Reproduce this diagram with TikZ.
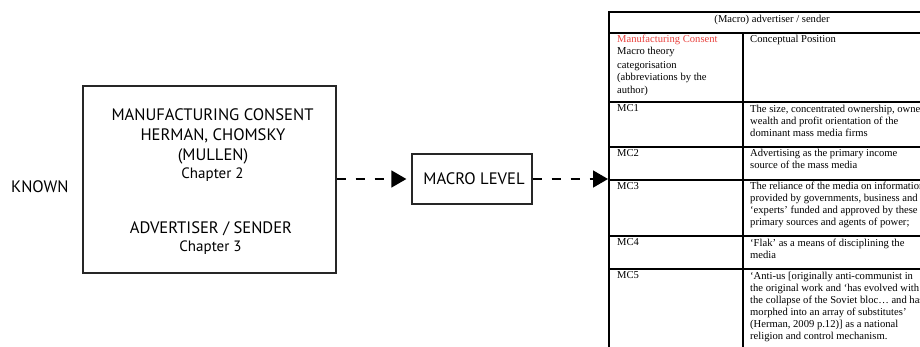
\documentclass[tikz,border=0pt]{standalone}
\usepackage{fontspec}
\setmainfont{Liberation Serif}
\newfontfamily\boxfont{PT Sans}
\newfontfamily\tabfont{Liberation Serif}
\usetikzlibrary{arrows.meta}
\definecolor{mcred}{RGB}{232,66,62}
\tikzset{
  framebox/.style={draw=black!85, line width=1.3pt, fill=white, inner sep=0pt},
  boxtext/.style={font=\boxfont\fontsize{16.6}{18}\selectfont, inner sep=0pt, anchor=center},
  chaptext/.style={font=\boxfont\fontsize{15}{17}\selectfont, inner sep=0pt, anchor=center},
  dasharrow/.style={line width=1.5pt, dash pattern=on 9pt off 10pt,
    -{Triangle[length=15pt,width=17pt]}},
  tabline/.style={line width=2.3pt, line cap=rect, draw=black},
  celltext/.style={font=\tabfont\fontsize{10.6}{12.1}\selectfont, inner sep=0pt,
    anchor=north west, align=left},
}
\begin{document}
\begin{tikzpicture}[x=1pt, y=-1pt]
  \useasboundingbox (0,0) rectangle (920,346);
  \clip (0,0) rectangle (920,346);

  % label on the far left
  \node[boxtext, anchor=west] (known) at (11,187) {KNOWN};

  % source box with its text lines
  \node[framebox, minimum width=253pt, minimum height=187pt] (src) at (209.5,179.5) {};
  \node[boxtext] (mc) at (212.5,115) {MANUFACTURING CONSENT};
  \node[boxtext] (hc) at (213,136) {HERMAN, CHOMSKY};
  \node[boxtext] (mu) at (213,156) {(MULLEN)};
  \node[chaptext] (c2) at (212.5,175) {Chapter 2};
  \node[boxtext] (as) at (211,229) {ADVERTISER / SENDER};
  \node[chaptext] (c3) at (210.5,248) {Chapter 3};

  % middle box
  \node[framebox, minimum width=120pt, minimum height=50pt] (macro) at (472,179) {};
  \node[boxtext] (ml) at (474,179) {MACRO LEVEL};

  % table frame
  \node[draw=none, minimum width=326pt, minimum height=360pt, anchor=north west,
        inner sep=0pt] (table) at (609,12) {};
  \draw[tabline] (609,380) -- (609,12) -- (940,12) -- (940,380);
  \foreach \yy in {33,102,147,180,236,269}
    \draw[tabline] (609,\yy) -- (940,\yy);
  \draw[tabline] (743,33) -- (743,380);

  % connectors
  \draw[dasharrow, shorten >=5pt] (src.east |- macro.west) -- (macro.west);
  \draw[dasharrow, shorten >=1pt] (macro.east) -- (macro.east -| table.west);

  % table contents
  \node[font=\tabfont\fontsize{10.6}{12}\selectfont, inner sep=0pt] (head) at (772,20)
    {(Macro) advertiser / sender};
  \node[celltext] (h1) at (617,34.5)
    {\textcolor{mcred}{Manufacturing Consent}\\Macro theory\\[2pt]categorisation\\[0.5pt](abbreviations by the\\author)};
  \node[celltext] (h2) at (750,34.5) {Conceptual Position};

  \node[celltext] (r1a) at (617,104.5) {MC1};
  \node[celltext] (r1b) at (750,104.5)
    {The size, concentrated ownership, owner\\wealth and profit orientation of the\\dominant mass media firms};
  \node[celltext] (r2a) at (617,149) {MC2};
  \node[celltext] (r2b) at (750,149)
    {Advertising as the primary income\\source of the mass media};
  \node[celltext] (r3a) at (617,182) {MC3};
  \node[celltext] (r3b) at (750,182)
    {The reliance of the media on information\\provided by governments, business and\\‘experts’ funded and approved by these\\primary sources and agents of power;};
  \node[celltext] (r4a) at (617,238.5) {MC4};
  \node[celltext] (r4b) at (750,238.5)
    {‘Flak’ as a means of disciplining the\\media};
  \node[celltext] (r5a) at (617,271.5) {MC5};
  \node[celltext] (r5b) at (750,271.5)
    {‘Anti-us [originally anti-communist in\\the original work and ‘has evolved with\\the collapse of the Soviet bloc… and has\\morphed into an array of substitutes’\\(Herman, 2009 p.12)] as a national\\religion and control mechanism.};
\end{tikzpicture}
\end{document}
